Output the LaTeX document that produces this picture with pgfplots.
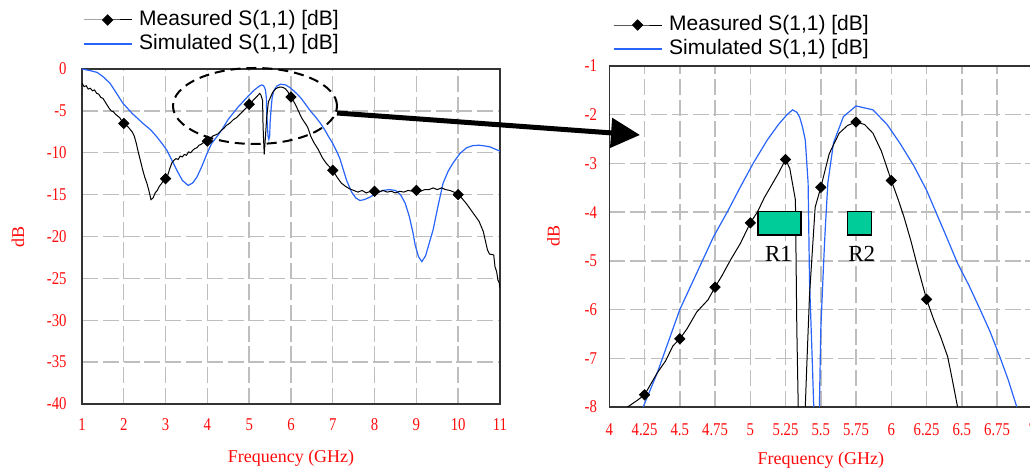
\documentclass[border=0pt]{standalone}
\usepackage{pgfplots}
\pgfplotsset{compat=1.18}
\usepackage{pgfplotstable}
\usetikzlibrary{arrows.meta}
\usepackage{fontspec}
\setmainfont{Liberation Serif}
\newfontfamily\legfont{Liberation Sans}
\newfontfamily\tickfont[FakeStretch=0.82]{Liberation Serif}

\definecolor{simblue}{RGB}{40,100,250}
\definecolor{tickred}{RGB}{255,10,10}
\definecolor{rgreen}{RGB}{0,204,153}
\definecolor{gridgray}{RGB}{190,190,190}

% measured S11 (noisy trace)
\pgfplotstableread{
x y
1.00 -1.7
1.05 -2.1
1.10 -2.0
1.15 -2.4
1.20 -2.3
1.25 -2.6
1.30 -2.5
1.35 -2.9
1.40 -3.0
1.45 -3.4
1.50 -3.5
1.55 -3.9
1.60 -4.3
1.65 -4.7
1.70 -5.0
1.75 -5.1
1.80 -5.4
1.85 -5.6
1.90 -5.8
1.95 -6.2
2.00 -6.5
2.10 -6.9
2.20 -7.5
2.25 -8.0
2.30 -8.9
2.35 -10.0
2.40 -11.0
2.45 -12.0
2.50 -12.9
2.55 -13.6
2.60 -14.5
2.65 -15.6
2.70 -15.4
2.75 -14.8
2.80 -14.5
2.85 -14.0
2.90 -13.7
2.95 -13.3
3.00 -13.1
3.05 -12.7
3.10 -11.9
3.15 -11.2
3.20 -10.9
3.25 -10.7
3.30 -10.8
3.35 -10.4
3.40 -10.5
3.45 -10.2
3.50 -10.3
3.55 -9.9
3.60 -10.0
3.65 -9.7
3.70 -9.5
3.75 -9.4
3.80 -9.1
3.85 -9.0
3.90 -8.8
3.95 -8.7
4.00 -8.6
4.05 -8.35
4.10 -8.15
4.13 -8.0
4.20 -7.86
4.25 -7.75
4.30 -7.5
4.34 -7.3
4.40 -7.05
4.45 -6.75
4.50 -6.6
4.55 -6.4
4.62 -6.05
4.70 -5.8
4.75 -5.54
4.80 -5.3
4.86 -4.98
4.93 -4.64
5.00 -4.22
5.05 -4.0
5.10 -3.7
5.15 -3.45
5.20 -3.2
5.25 -2.92
5.28 -3.1
5.32 -3.75
5.33 -6.4
5.34 -8.0
5.36 -10.2
5.39 -8.0
5.40 -7.2
5.42 -5.7
5.46 -3.9
5.50 -3.49
5.56 -2.8
5.63 -2.38
5.69 -2.22
5.75 -2.15
5.81 -2.2
5.87 -2.38
5.93 -2.75
6.00 -3.35
6.05 -3.75
6.09 -4.1
6.14 -4.6
6.18 -5.05
6.25 -5.79
6.30 -6.2
6.35 -6.56
6.40 -6.97
6.43 -7.4
6.47 -8.0
6.55 -8.8
6.65 -9.6
6.75 -10.6
6.85 -11.3
7.00 -12.1
7.10 -12.9
7.20 -13.6
7.30 -14.0
7.40 -14.3
7.50 -14.5
7.60 -14.7
7.70 -14.5
7.80 -14.8
7.90 -14.6
8.00 -14.6
8.10 -14.7
8.20 -14.5
8.30 -14.7
8.40 -14.6
8.50 -14.8
8.60 -14.6
8.70 -14.7
8.80 -14.5
8.90 -14.6
9.00 -14.5
9.10 -14.6
9.20 -14.4
9.30 -14.4
9.40 -14.2
9.50 -14.4
9.60 -14.2
9.70 -14.4
9.80 -14.5
9.90 -14.7
10.00 -15.0
10.10 -15.5
10.20 -16.1
10.30 -16.8
10.40 -17.5
10.50 -18.2
10.60 -19.4
10.65 -20.5
10.70 -21.6
10.75 -22.1
10.85 -22.2
10.88 -23.6
10.92 -24.2
10.95 -25.2
10.98 -25.5
11.00 -26.2
}\measdata

% simulated S11
\pgfplotstableread{
x y
1.00 0.0
1.20 -0.2
1.36 -0.4
1.50 -0.9
1.67 -1.7
1.80 -2.7
1.98 -4.1
2.20 -5.3
2.46 -6.5
2.65 -7.3
2.79 -8.1
2.90 -8.8
3.03 -9.7
3.15 -10.9
3.27 -12.1
3.40 -13.3
3.54 -13.9
3.65 -13.6
3.75 -12.9
3.87 -11.6
3.99 -10.1
4.10 -8.9
4.24 -8.0
4.34 -7.3
4.42 -6.65
4.50 -6.0
4.62 -5.25
4.74 -4.5
4.84 -3.98
4.93 -3.48
5.02 -3.0
5.12 -2.52
5.20 -2.2
5.26 -2.0
5.30 -1.9
5.33 -1.95
5.35 -2.05
5.37 -2.25
5.39 -2.52
5.41 -3.4
5.42 -5.4
5.44 -7.1
5.45 -8.0
5.47 -8.4
5.49 -8.0
5.50 -6.4
5.52 -5.05
5.53 -4.43
5.55 -3.4
5.59 -2.58
5.66 -2.04
5.75 -1.82
5.87 -1.9
5.97 -2.2
6.06 -2.58
6.16 -3.05
6.25 -3.55
6.38 -4.43
6.47 -5.05
6.55 -5.5
6.63 -6.0
6.70 -6.45
6.77 -6.97
6.83 -7.45
6.89 -8.0
7.00 -8.9
7.10 -9.9
7.17 -10.7
7.25 -12.0
7.33 -13.3
7.45 -14.7
7.55 -15.4
7.65 -15.7
7.75 -15.6
7.89 -15.3
8.05 -14.8
8.20 -14.5
8.35 -14.4
8.50 -14.5
8.62 -15.0
8.73 -16.0
8.83 -17.6
8.92 -19.6
8.97 -21.0
9.05 -22.4
9.13 -23.0
9.22 -22.3
9.33 -20.4
9.40 -19.2
9.52 -16.3
9.64 -13.6
9.76 -12.2
9.88 -11.2
10.04 -10.1
10.20 -9.4
10.35 -9.15
10.50 -9.1
10.65 -9.2
10.76 -9.3
10.90 -9.6
11.00 -9.8
}\simdata

% marker positions of the measured trace
\pgfplotstableread{
x y
2 -6.5
3 -13.1
4 -8.6
5 -4.22
6 -3.35
7 -12.1
8 -14.6
9 -14.5
10 -15.0
}\marksleft

\pgfplotstableread{
x y
4.00 -8.6
4.25 -7.75
4.50 -6.6
4.75 -5.54
5.00 -4.22
5.25 -2.92
5.50 -3.49
5.75 -2.15
6.00 -3.35
6.25 -5.79
}\marksright

\pgfplotsset{
  s11/.style={
    scale only axis,
    axis line style={draw=black!80, line width=0.75pt},
    grid=major,
    major grid style={gridgray, line width=0.7pt, dash pattern=on 8pt off 2.4pt},
    major tick length=0pt,
    tick style={draw=none},
    /pgf/number format/assume math mode=true,
    ticklabel style={text=tickred, font=\tickfont\fontsize{9}{9}\selectfont, inner sep=0pt},
    xlabel={Frequency (GHz)},
    ylabel={dB},
    label style={text=tickred, font=\fontsize{9}{10}\selectfont},
    legend cell align=left,
    legend image code/.code={
      \draw[mark repeat=2, mark phase=2, ##1] plot coordinates {(0pt,0pt) (12pt,0pt) (24pt,0pt)};
    },
    legend style={
      draw=none, fill=none, inner sep=0pt, outer sep=0pt,
      at={(axis description cs:0,1)}, anchor=south west,
      font=\legfont\fontsize{10.5}{12}\selectfont,
      row sep=2.2pt,
      nodes={inner sep=0pt, text height=7.6pt, text depth=2.2pt},
      /tikz/every odd column/.append style={column sep=3.5pt},
    },
  },
  measline/.style={black, line width=0.5pt},
  measmark/.style={only marks, black, mark=square*, mark size=1.8pt, mark options={rotate=45}},
  simline/.style={simblue, line width=0.6pt},
}

\begin{document}
\begin{tikzpicture}[x=1pt,y=1pt]

% left: full band
\begin{axis}[s11,
  at={(41pt,33.5pt)}, anchor=south west,
  width=209pt, height=167.5pt,
  xmin=1, xmax=11, ymin=-40, ymax=0,
  xtick={1,...,11}, ytick={-40,-35,...,0},
  xticklabel shift=7pt, yticklabel shift=7.5pt,
  x label style={at={(axis description cs:0.5,-0.161)}, anchor=center},
  y label style={at={(axis description cs:-0.153,0.5)}, anchor=center, rotate=0},
  legend style={xshift=0.5pt, yshift=7.6pt},
]
\addlegendimage{measline, mark=square*, mark size=1.8pt, mark options={rotate=45, fill=black}}
\addlegendentry{Measured S(1,1) [dB]}
\addlegendimage{simline}
\addlegendentry{Simulated S(1,1) [dB]}
\addplot[simline, forget plot] table {\simdata};
\addplot[measline, forget plot] table {\measdata};
\addplot[measmark, forget plot] table {\marksleft};
\end{axis}

% right: zoom on 4-7 GHz
\begin{axis}[s11,
  at={(304.65pt,32pt)}, anchor=south west,
  width=211.5pt, height=170.5pt,
  xmin=4, xmax=7, ymin=-8, ymax=-1,
  xtick={4,4.25,4.5,4.75,5,5.25,5.5,5.75,6,6.25,6.5,6.75,7},
  ytick={-8,-7,...,-1},
  xticklabel shift=8pt, yticklabel shift=6pt,
  x label style={at={(axis description cs:0.5,-0.155)}, anchor=center},
  y label style={at={(axis description cs:-0.132,0.5)}, anchor=center, rotate=0},
  legend style={xshift=1.85pt, yshift=3.6pt},
]
\addlegendimage{measline, mark=square*, mark size=1.8pt, mark options={rotate=45, fill=black}}
\addlegendentry{Measured S(1,1) [dB]}
\addlegendimage{simline}
\addlegendentry{Simulated S(1,1) [dB]}
\addplot[simline, forget plot] table {\simdata};
\addplot[measline, forget plot] table {\measdata};
\addplot[measmark, forget plot] table {\marksright};
\draw[fill=rgreen, line width=0.6pt] (axis cs:5.055,-3.98) rectangle (axis cs:5.36,-4.47);
\draw[fill=rgreen, line width=0.6pt] (axis cs:5.69,-3.98) rectangle (axis cs:5.86,-4.47);
\node[font=\fontsize{11.5}{12}\selectfont] at (axis cs:5.20,-4.85) {R1};
\node[font=\fontsize{11.5}{12}\selectfont] at (axis cs:5.79,-4.85) {R2};
\end{axis}

% dashed ellipse and arrow
\draw[line width=1pt, dash pattern=on 5pt off 3pt] (127.5pt,182.5pt) ellipse [x radius=41pt, y radius=19pt];
\draw[line width=2.5pt, -{Triangle[length=14.5pt,width=14.5pt]}] (168.5pt,179pt) -- (320pt,168pt);

\pgfresetboundingbox
\path (0pt,0pt) rectangle (515pt,235.5pt);
\end{tikzpicture}
\end{document}
